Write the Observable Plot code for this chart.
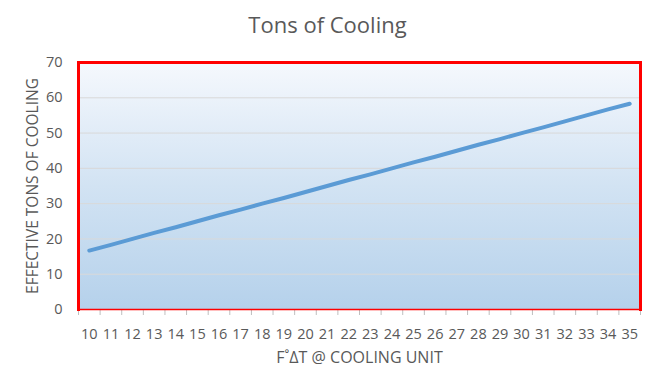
<!DOCTYPE html>
<html>
<head>
<meta charset="utf-8">
<script src="https://cdn.jsdelivr.net/npm/d3@7"></script>
<script src="https://cdn.jsdelivr.net/npm/@observablehq/plot@0.6"></script>
<style>
  body { margin: 0; background: #fff; }
  #title { height: 46px; line-height: 48px; text-align: center; font-family: "Open Sans", sans-serif; font-size: 22px; color: #595959; }
  svg { display: block; }
</style>
</head>
<body>
<div id="title">Tons of Cooling</div>
<div id="chart"></div>
<script>
const deltaT = [10, 11, 12, 13, 14, 15, 16, 17, 18, 19, 20, 21, 22, 23, 24, 25, 26, 27, 28, 29, 30, 31, 32, 33, 34, 35];
const tons = [16.7, 18.3, 20.0, 21.7, 23.3, 25.0, 26.7, 28.3, 30.0, 31.6, 33.3, 35.0, 36.7, 38.3, 40.0, 41.7, 43.3, 45.0, 46.7, 48.3, 50.0, 51.6, 53.3, 55.0, 56.7, 58.3];
const yTicks = [0, 10, 20, 30, 40, 50, 60, 70];
const gridTicks = [10, 20, 30, 40, 50, 60];
const xTickMarks = [9.5, 10.5, 11.5, 12.5, 13.5, 14.5, 15.5, 16.5, 17.5, 18.5, 19.5, 20.5, 21.5, 22.5, 23.5, 24.5, 25.5, 26.5, 27.5, 28.5, 29.5, 30.5, 31.5, 32.5, 33.5, 34.5, 35.5];

const data = deltaT.map((d, i) => ({dT: d, tons: tons[i]}));

const gradientDefs = () => {
  const ns = "http://www.w3.org/2000/svg";
  const g = document.createElementNS(ns, "g");
  g.innerHTML = `<defs><linearGradient id="bg" x1="0" y1="0" x2="0" y2="1">
    <stop offset="0" stop-color="#f5f8fd"/>
    <stop offset="0.5" stop-color="#d2e3f3"/>
    <stop offset="1" stop-color="#b5d1eb"/>
  </linearGradient></defs>`;
  return g;
};

const chart = Plot.plot({
  width: 655,
  height: 345,
  marginTop: 16,
  marginBottom: 82,
  marginLeft: 78,
  marginRight: 15,
  style: {fontFamily: "Open Sans, sans-serif", fontSize: "13px", color: "#595959", background: "#fff"},
  x: {domain: [9.5, 35.5]},
  y: {domain: [0, 70]},
  marks: [
    gradientDefs,
    Plot.frame({fill: "url(#bg)", stroke: "none"}),
    Plot.ruleY(gridTicks, {stroke: "#d9d9d9", strokeWidth: 1}),
    Plot.axisY({ticks: yTicks, tickSize: 0, tickPadding: 16, fontSize: 14.5, fill: "#595959", label: null}),
    Plot.text(["EFFECTIVE TONS OF COOLING"], {frameAnchor: "left", textAnchor: "middle", rotate: -90, dx: -45, fontSize: 15.5, fill: "#595959"}),
    Plot.axisX({ticks: xTickMarks, tickSize: 6, tickFormat: () => "", stroke: "#bfbfbf", label: null}),
    Plot.axisX({ticks: deltaT, tickSize: 0, tickPadding: 19, tickFormat: d => String(d), fontSize: 14.5, fill: "#595959", label: null}),
    Plot.text(["F˚ΔT @ COOLING UNIT"], {frameAnchor: "bottom", dy: 53, fontSize: 16, fill: "#595959"}),
    Plot.line(data, {x: "dT", y: "tons", stroke: "#5b9bd5", strokeWidth: 4, strokeLinecap: "round", strokeLinejoin: "round"}),
    Plot.frame({anchor: "top", stroke: "#ff0000", strokeWidth: 3}),
    Plot.frame({anchor: "left", stroke: "#ff0000", strokeWidth: 3}),
    Plot.frame({anchor: "right", stroke: "#ff0000", strokeWidth: 3}),
    Plot.frame({anchor: "bottom", stroke: "#ff0000", strokeWidth: 1.5})
  ]
});
document.getElementById("chart").appendChild(chart);
</script>
</body>
</html>
